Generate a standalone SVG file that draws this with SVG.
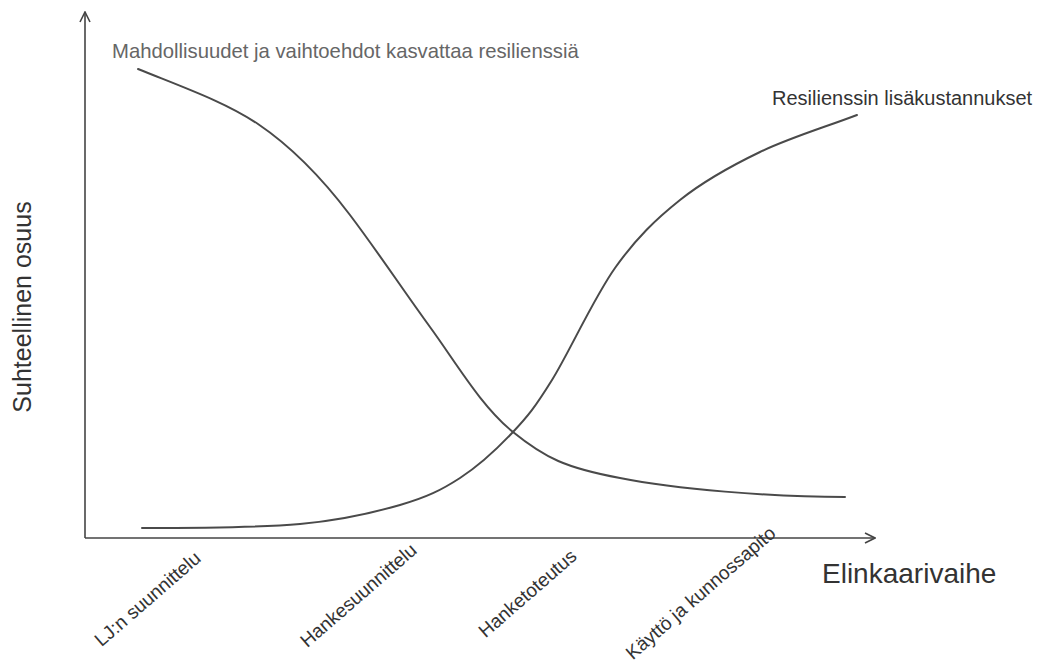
<svg xmlns="http://www.w3.org/2000/svg" width="1039" height="671" viewBox="0 0 1039 671">
  <style>
    .axis { fill: none; stroke: #444; stroke-width: 1.6; }
    .curve { fill: none; stroke: #4a4a4a; stroke-width: 2; stroke-linecap: round; }
    .lbl { font-family: "Liberation Sans", Arial, sans-serif; fill: #333; }
    .tick { font-size: 19px; text-anchor: end; }
  </style>
  <defs>
    <marker id="arrow" viewBox="0 0 12 12" refX="11" refY="6" markerWidth="12" markerHeight="12" markerUnits="userSpaceOnUse" orient="auto">
      <path d="M1,1 L11,6 L1,11" fill="none" stroke="#444" stroke-width="1.6"/>
    </marker>
  </defs>
  <rect width="1039" height="671" fill="#fff"/>

  <!-- axes -->
  <g id="axes">
    <path class="axis" d="M85,538 L85,12" marker-end="url(#arrow)"/>
    <path class="axis" d="M85,538 L875,538" marker-end="url(#arrow)"/>
  </g>

  <!-- curves -->
  <g id="curves">
    <path id="options-curve" class="curve" d="M138,69 C185,88 225,102 258,124 C292,147 322,178 350,215 C378,252 403,290 430,327 C457,364 481,406 513,432 C545,458 566,468 620,478 C675,489 770,497 845,497"/>
    <path id="cost-curve" class="curve" d="M142,528 C195,528 257,527.8 300,524 C343,520.2 373.3,512.7 400,505 C426.7,497.3 441.2,490.2 460,478 C478.8,465.8 497.7,448.3 513,432 C528.3,415.7 535,407.3 552,380 C569,352.7 593.7,298 615,268 C636.3,238 655.8,219.3 680,200 C704.2,180.7 730.5,166.2 760,152 C789.5,137.8 824.7,127.3 857,115"/>
  </g>

  <!-- curve labels -->
  <g id="curve-labels">
    <text class="lbl" x="112" y="58" font-size="20.3" style="fill:#666">Mahdollisuudet ja vaihtoehdot kasvattaa resilienssiä</text>
    <text class="lbl" x="772" y="105" font-size="20">Resilienssin lisäkustannukset</text>
  </g>

  <!-- axis titles -->
  <g id="axis-titles">
    <text class="lbl" x="822" y="583" font-size="28">Elinkaarivaihe</text>
    <text class="lbl" transform="translate(31,307) rotate(-90)" font-size="25" text-anchor="middle">Suhteellinen osuus</text>
  </g>

  <!-- lifecycle phase labels -->
  <g id="phase-labels">
    <text class="lbl tick" transform="translate(202,560) rotate(-41)">LJ:n suunnittelu</text>
    <text class="lbl tick" transform="translate(418,552) rotate(-41)">Hankesuunnittelu</text>
    <text class="lbl tick" transform="translate(578,558) rotate(-41)">Hanketoteutus</text>
    <text class="lbl tick" transform="translate(777,535) rotate(-41)">Käyttö ja kunnossapito</text>
  </g>
</svg>
